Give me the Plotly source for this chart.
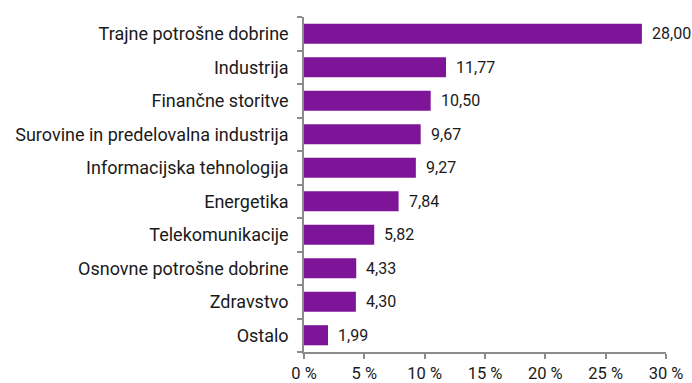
import plotly.graph_objects as go

# Sector weights (%)
sectors = [
    "Trajne potrošne dobrine",
    "Industrija",
    "Finančne storitve",
    "Surovine in predelovalna industrija",
    "Informacijska tehnologija",
    "Energetika",
    "Telekomunikacije",
    "Osnovne potrošne dobrine",
    "Zdravstvo",
    "Ostalo",
]
weights = [28.00, 11.77, 10.50, 9.67, 9.27, 7.84, 5.82, 4.33, 4.30, 1.99]

x_ticks = [0, 5, 10, 15, 20, 25, 30]
x_tick_labels = ["0 %", "5 %", "10 %", "15 %", "20 %", "25 %", "30 %"]

BAR = "#7E1598"
AXIS = "#8c8c8c"
TXT = "#1a1a1a"
FONT = "Roboto, DejaVu Sans, sans-serif"

labels = [f"{v:.2f}".replace(".", ",") for v in weights]

fig = go.Figure(
    go.Bar(
        x=weights,
        y=sectors,
        orientation="h",
        marker=dict(color=BAR, line=dict(width=0)),
        width=0.6,
        hoverinfo="skip",
    )
)

for s, v, t in zip(sectors, weights, labels):
    fig.add_annotation(
        x=v, y=s, text=t, showarrow=False,
        xanchor="left", yanchor="middle", xshift=8,
        font=dict(family=FONT, size=16, color=TXT),
    )

fig.update_layout(
    width=692,
    height=383,
    margin=dict(l=304, r=26, t=17, b=31, autoexpand=False),
    paper_bgcolor="white",
    plot_bgcolor="white",
    showlegend=False,
    font=dict(family=FONT, size=16, color=TXT),
    xaxis=dict(
        range=[0, 30],
        tickvals=x_ticks,
        ticktext=x_tick_labels,
        showgrid=False,
        zeroline=False,
        showline=True,
        linecolor=AXIS,
        linewidth=1.5,
        ticks="outside",
        ticklen=5,
        tickcolor=AXIS,
        tickwidth=1.5,
        ticklabelstandoff=0,
        tickfont=dict(family=FONT, size=16.5, color=TXT),
        automargin=False,
        fixedrange=True,
    ),
    yaxis=dict(
        type="category",
        categoryorder="array",
        categoryarray=sectors[::-1],
        showgrid=False,
        showline=True,
        linecolor=AXIS,
        linewidth=1.5,
        ticks="outside",
        tickson="boundaries",
        ticklen=5,
        tickcolor=AXIS,
        tickwidth=1.5,
        ticklabelstandoff=10,
        tickfont=dict(family=FONT, size=18, color=TXT),
        automargin=False,
        fixedrange=True,
    ),
)

fig.write_html("out.html")
